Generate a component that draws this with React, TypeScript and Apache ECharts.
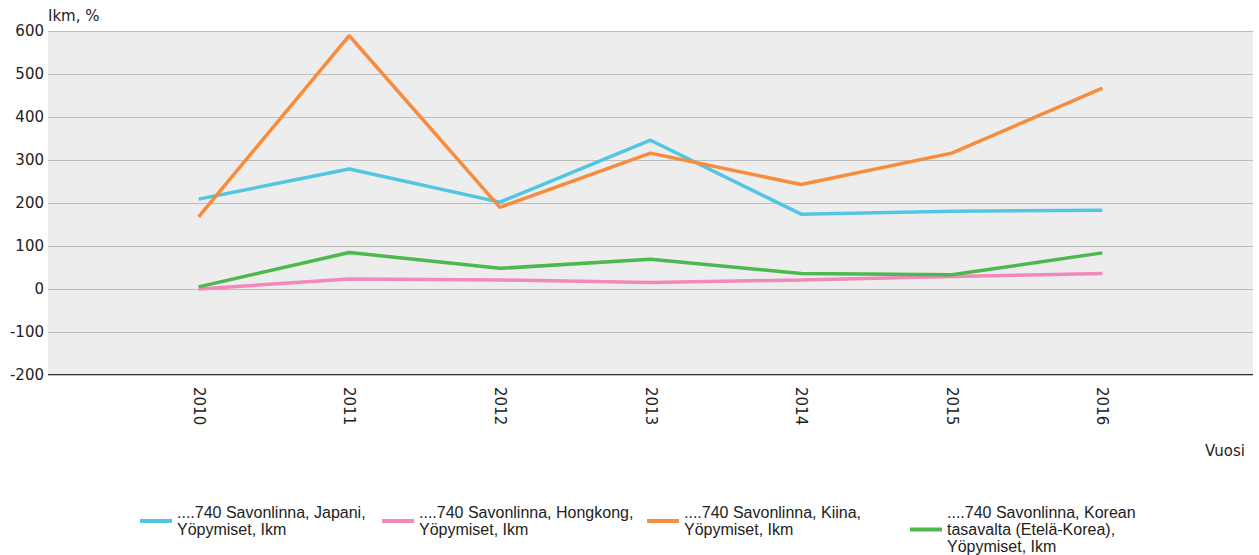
import React, { useEffect, useRef } from "react";
import * as echarts from "echarts";

const years = [2010, 2011, 2012, 2013, 2014, 2015, 2016];
const japani = [209, 279, 202, 346, 174, 181, 183];
const hongkong = [0, 23, 21, 15, 21, 29, 36];
const kiina = [168, 589, 190, 316, 243, 316, 467];
const korea = [5, 85, 48, 69, 36, 33, 84];

const seriesNames = [
  "....740 Savonlinna, Japani,\nYöpymiset, Ikm",
  "....740 Savonlinna, Hongkong,\nYöpymiset, Ikm",
  "....740 Savonlinna, Kiina,\nYöpymiset, Ikm",
  "....740 Savonlinna, Korean\ntasavalta (Etelä-Korea),\nYöpymiset, Ikm",
];
const seriesValues = [japani, hongkong, kiina, korea];
const colors = ["#52C5E3", "#F388BA", "#F68C3C", "#4DB84E"];
const legendLefts = [140, 382, 647, 910];
const yTicks = { min: -200, max: 600, interval: 100 };

export default function App() {
  const ref = useRef<HTMLDivElement>(null);
  useEffect(() => {
    document.body.style.margin = "0";
    const chart = echarts.init(ref.current!, null, { renderer: "svg" });
    const axisFont = "'DejaVu Sans', Verdana, sans-serif";
    const legendFont = "'Liberation Sans', Arial, sans-serif";
    chart.setOption({
      animation: false,
      textStyle: { fontFamily: axisFont },
      grid: {
        left: 48,
        right: 6,
        top: 31,
        bottom: 180,
        show: true,
        backgroundColor: "#EDEDED",
        borderWidth: 0,
      },
      legend: seriesNames.map((n, i) => ({
        data: [n],
        left: legendLefts[i],
        top: 504,
        padding: 0,
        itemWidth: 32,
        itemHeight: 4,
        icon: "rect",
        itemGap: 8,
        textStyle: { fontSize: 16, color: "#222", fontFamily: legendFont, lineHeight: 17 },
      })),
      xAxis: {
        type: "value",
        min: 2009,
        max: 2017,
        interval: 1,
        axisLine: { show: false },
        axisTick: { show: false },
        splitLine: { show: false },
        axisLabel: {
          rotate: -90,
          fontSize: 15,
          color: "#222",
          margin: 12,
          fontFamily: axisFont,
          formatter: (v: number) => (years.includes(v) ? String(v) : ""),
        },
      },
      yAxis: {
        type: "value",
        min: yTicks.min,
        max: yTicks.max,
        interval: yTicks.interval,
        axisLine: { show: false },
        axisTick: { show: false },
        axisLabel: { fontSize: 15, color: "#222", margin: 4, fontFamily: axisFont },
        splitLine: { show: true, lineStyle: { color: "#BDBDBD", width: 1 } },
      },
      graphic: [
        {
          type: "text",
          left: 48,
          top: 8,
          style: { text: "Ikm, %", fontSize: 15, fill: "#222", fontFamily: axisFont },
        },
        {
          type: "text",
          left: 1205,
          top: 443,
          style: { text: "Vuosi", fontSize: 15, fill: "#222", fontFamily: axisFont },
        },
        {
          type: "line",
          shape: { x1: 48, y1: 375, x2: 1253, y2: 375 },
          style: { stroke: "#333", lineWidth: 2 },
        },
      ],
      series: seriesNames.map((n, i) => ({
        name: n,
        type: "line",
        data: years.map((y, j) => [y, seriesValues[i][j]]),
        showSymbol: false,
        symbol: "none",
        lineStyle: { width: 3.5, color: colors[i] },
        itemStyle: { color: colors[i] },
      })),
    });
    return () => chart.dispose();
  }, []);
  return <div ref={ref} style={{ width: 1259, height: 555 }} />;
}
